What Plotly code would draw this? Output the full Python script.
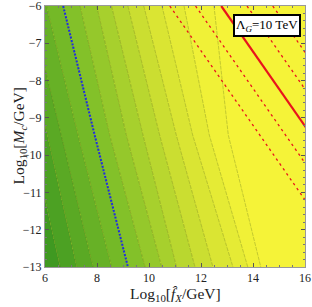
import plotly.graph_objects as go

# ---- data ----
# y levels at which contour crossings were read
y_levels = [-6.0, -9.46, -13.0]
# x position of each filled-contour boundary at the three y levels
contour_x_top = [3.50, 4.15, 4.80, 5.42, 6.06, 6.70, 7.35, 7.99, 8.56, 9.19, 9.80, 10.50, 11.35, 12.50]
contour_x_mid = [4.81, 5.45, 6.09, 6.63, 7.27, 7.91, 8.49, 9.13, 9.77, 10.41, 11.05, 11.68, 12.32, 13.05]
contour_x_bot = [6.00, 6.58, 7.22, 7.85, 8.56, 9.19, 9.85, 10.49, 11.06, 11.77, 12.46, 13.23, 13.80, 14.30]
blue_index = 5
# red lines: log10 fX + log10 Mc = const
red_consts = [4.80, 5.79, 6.78, 7.77, 8.76]
red_solid = [False, False, True, False, False]
label_text = "Λ<sub><i>G</i></sub>=10 TeV"

x_ticks = [6, 8, 10, 12, 14, 16]
y_ticks = [-6, -7, -8, -9, -10, -11, -12, -13]

# ---- colours (style) ----
anchors = [(0.0, (50, 145, 32)), (0.4, (124, 190, 40)), (0.75, (212, 226, 50)), (0.93, (240, 241, 55)), (1.0, (245, 243, 56))]
def cmap(t):
    for (t0, c0), (t1, c1) in zip(anchors[:-1], anchors[1:]):
        if t <= t1:
            f = (t - t0) / (t1 - t0)
            return "rgb(%d,%d,%d)" % tuple(int(round(a + (b - a) * f)) for a, b in zip(c0, c1))
    return "rgb(%d,%d,%d)" % anchors[-1][1]

fig = go.Figure()
n = len(contour_x_mid)
lines = [list(zip([contour_x_top[i], contour_x_mid[i], contour_x_bot[i]], y_levels)) for i in range(n)]
far_left = [(-10, y) for y in y_levels]
far_right = [(30, y) for y in y_levels]
bounds = [far_left] + lines + [far_right]
nb = len(bounds) - 1
for b in range(nb):
    left = bounds[b]
    right = bounds[b + 1]
    pts = left + right[::-1]
    xs = [p[0] for p in pts] + [pts[0][0]]
    ys = [p[1] for p in pts] + [pts[0][1]]
    fig.add_trace(go.Scatter(x=xs, y=ys, mode="lines", fill="toself",
                             fillcolor=cmap(b / (nb - 1)), line=dict(width=0),
                             hoverinfo="skip", showlegend=False))
for i in range(n):
    xs = [p[0] for p in lines[i]]
    ys = [p[1] for p in lines[i]]
    fig.add_trace(go.Scatter(x=xs, y=ys, mode="lines",
                             line=dict(color="rgba(70,90,30,0.35)", width=0.8, dash="4px,1px"),
                             hoverinfo="skip", showlegend=False))
# blue dotted line
fig.add_trace(go.Scatter(x=[contour_x_top[blue_index], contour_x_mid[blue_index], contour_x_bot[blue_index]],
                         y=y_levels, mode="lines",
                         line=dict(color="#1f2fe0", width=2, dash="2px,1.5px"), showlegend=False))
# red lines
for c, solid in zip(red_consts, red_solid):
    xs = [c - y_levels[0], c - y_levels[-1]]
    fig.add_trace(go.Scatter(x=xs, y=[y_levels[0], y_levels[-1]], mode="lines",
                             line=dict(color="#e8141c", width=2.2 if solid else 1.3,
                                       dash=None if solid else "2.5px,3.5px"),
                             showlegend=False))

serif = "Liberation Serif"
fig.add_annotation(x=0.985, y=0.968, xref="paper", yref="paper", xanchor="right", yanchor="top",
                   text=label_text, showarrow=False,
                   font=dict(family=serif, size=13, color="black"),
                   bgcolor="white", bordercolor="black", borderwidth=2, borderpad=1)
# axis titles
fig.add_annotation(x=0.5, y=-0.105, xref="paper", yref="paper", xanchor="center", yanchor="middle",
                   text="Log<sub>10</sub>[<i>f̂</i><sub><i>X</i></sub>/GeV]", showarrow=False,
                   font=dict(family=serif, size=15.5, color="#222"))
fig.add_annotation(x=-0.1, y=0.5, xref="paper", yref="paper", xanchor="center", yanchor="middle",
                   text="Log<sub>10</sub>[<i>M</i><sub><i>c</i></sub>/GeV]", showarrow=False, textangle=-90,
                   font=dict(family=serif, size=15.5, color="#222"))

axis_common = dict(showgrid=False, zeroline=False, ticks="inside", ticklen=4, tickwidth=1,
                   tickcolor="#555", mirror="allticks", showline=True, linecolor="#999", linewidth=1,
                   automargin=False, ticklabeloverflow="allow",
                   tickfont=dict(family=serif, size=12, color="#222"))
fig.update_xaxes(range=[6, 16], tickvals=x_ticks, ticktext=[str(v) for v in x_ticks],
                 minor=dict(ticks="inside", ticklen=2, dtick=0.5, tickcolor="#777"),
                 **axis_common)
fig.update_yaxes(range=[-13, -6], tickvals=y_ticks, ticktext=["−%d" % -v for v in y_ticks],
                 minor=dict(ticks="inside", ticklen=2, dtick=0.2, tickcolor="#777"),
                 **axis_common)
fig.update_layout(width=312, height=307, margin=dict(l=45, r=7, t=6, b=40, autoexpand=False),
                  paper_bgcolor="white", plot_bgcolor="#f4f337")
fig.write_html("out.html", config={"displayModeBar": False},
               post_script="document.body.style.margin='0';document.body.style.overflow='hidden';")
